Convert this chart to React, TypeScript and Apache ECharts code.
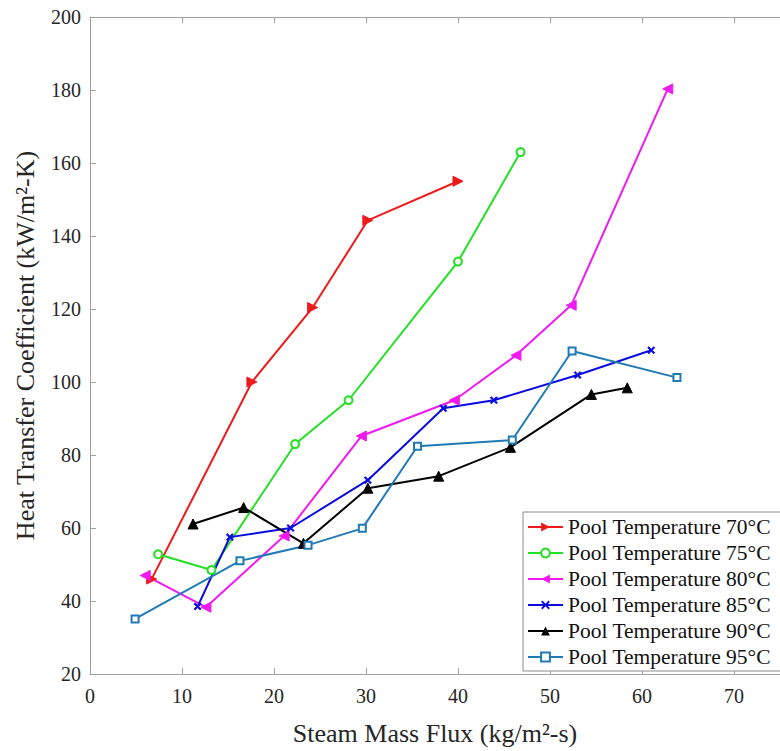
import React, { useEffect, useRef } from "react";
import * as echarts from "echarts";

const xTicks = [0, 10, 20, 30, 40, 50, 60, 70];
const yTicks = [20, 40, 60, 80, 100, 120, 140, 160, 180, 200];

const seriesNames = [
  "Pool Temperature 70°C",
  "Pool Temperature 75°C",
  "Pool Temperature 80°C",
  "Pool Temperature 85°C",
  "Pool Temperature 90°C",
  "Pool Temperature 95°C",
];

const flux70 = [6.7, 17.6, 24.2, 30.2, 40.0];
const htc70 = [46, 100, 120.4, 144.3, 155];

const flux75 = [7.4, 13.2, 22.3, 28.1, 40.0, 46.8];
const htc75 = [52.8, 48.5, 83, 95, 133, 163];

const flux80 = [6.0, 12.6, 21.1, 29.5, 39.6, 46.3, 52.3, 62.8];
const htc80 = [47, 38.3, 57.8, 85.2, 95, 107.3, 121, 180.3];

const flux85 = [11.7, 15.2, 21.8, 30.2, 38.4, 43.9, 53.0, 61.0];
const htc85 = [38.5, 57.5, 60, 73.1, 92.8, 95, 101.9, 108.7];

const flux90 = [11.2, 16.7, 23.2, 30.2, 37.9, 45.7, 54.5, 58.4];
const htc90 = [61.1, 65.6, 55.8, 70.9, 74.2, 82.1, 96.6, 98.4];

const flux95 = [4.9, 16.3, 23.7, 29.6, 35.6, 45.9, 52.4, 63.8];
const htc95 = [35.1, 51, 55.3, 59.9, 82.4, 84.1, 108.5, 101.2];

const FONT = '"Liberation Serif", "Times New Roman", serif';
const TEXT = "#262626";
const AXIS = "#a0a0a0";

const xMark = "path://M0,1.5 L1.5,0 L5,3.5 L8.5,0 L10,1.5 L6.5,5 L10,8.5 L8.5,10 L5,6.5 L1.5,10 L0,8.5 L3.5,5 Z";

const zip = (xs: number[], ys: number[]) => xs.map((x, i) => [x, ys[i]]);

export default function App() {
  const ref = useRef<HTMLDivElement>(null);
  useEffect(() => {
    if (!ref.current) return;
    const chart = echarts.init(ref.current, undefined, { renderer: "svg" });

    const mk = (
      name: string,
      xs: number[],
      ys: number[],
      color: string,
      symbol: string,
      size: number,
      rotate = 0,
      extra: any = {}
    ) => ({
      name,
      type: "line",
      data: zip(xs, ys),
      symbol,
      symbolSize: size,
      symbolRotate: rotate,
      showSymbol: true,
      lineStyle: { color, width: 2 },
      itemStyle: { color, borderColor: color, ...extra },
      emphasis: { disabled: true },
      z: 3,
    });

    chart.setOption({
      animation: false,
      backgroundColor: "#ffffff",
      grid: { left: 90, top: 17, width: 698, height: 659, containLabel: false },
      legend: {
        show: true,
        orient: "vertical",
        left: 523,
        top: 512,
        padding: [4, 10, 3, 4],
        itemWidth: 35,
        itemHeight: 11,
        itemGap: 4,
        backgroundColor: "#ffffff",
        borderColor: "#8c8c8c",
        borderWidth: 1,
        borderRadius: 0,
        textStyle: { fontFamily: FONT, fontSize: 21.5, color: "#111111" },
        data: seriesNames,
      },
      xAxis: [
        {
          type: "value",
          min: 0,
          max: 75,
          interval: 10,
          name: "Steam Mass Flux (kg/m²-s)",
          nameLocation: "middle",
          nameGap: 46,
          nameTextStyle: { fontFamily: FONT, fontSize: 26, color: TEXT },
          axisLine: { show: true, lineStyle: { color: AXIS, width: 1 } },
          axisTick: { show: true, inside: true, length: 6, lineStyle: { color: AXIS } },
          axisLabel: {
            fontFamily: FONT,
            fontSize: 20,
            color: TEXT,
            margin: 12,
            showMaxLabel: false,
            formatter: (v: number) => (xTicks.includes(v) ? String(v) : ""),
          },
          splitLine: { show: false },
        },
        {
          type: "value",
          position: "top",
          min: 0,
          max: 75,
          interval: 10,
          axisLine: { show: true, onZero: false, lineStyle: { color: AXIS, width: 1 } },
          axisTick: { show: true, inside: true, length: 6, lineStyle: { color: AXIS } },
          axisLabel: { show: false },
          splitLine: { show: false },
        },
      ],
      yAxis: {
        type: "value",
        min: 20,
        max: 200,
        interval: 20,
        name: "Heat Transfer Coefficient (kW/m²-K)",
        nameLocation: "middle",
        nameGap: 52,
        nameTextStyle: { fontFamily: FONT, fontSize: 26, color: TEXT },
        axisLine: { show: true, lineStyle: { color: AXIS, width: 1 } },
        axisTick: { show: true, inside: true, length: 6, lineStyle: { color: AXIS } },
        axisLabel: {
          fontFamily: FONT,
          fontSize: 20,
          color: TEXT,
          margin: 9,
          formatter: (v: number) => (yTicks.includes(v) ? String(v) : ""),
        },
        splitLine: { show: false },
      },
      series: [
        mk(seriesNames[0], flux70, htc70, "#ee1b1b", "triangle", 10, -90),
        mk(seriesNames[1], flux75, htc75, "#22e022", "emptyCircle", 8, 0, { borderWidth: 1.5 }),
        mk(seriesNames[2], flux80, htc80, "#f01af0", "triangle", 10, 90),
        mk(seriesNames[3], flux85, htc85, "#0b0be0", xMark, 7),
        mk(seriesNames[4], flux90, htc90, "#000000", "triangle", 10, 0),
        mk(seriesNames[5], flux95, htc95, "#1f7ab5", "emptyRect", 7, 0, { borderWidth: 1.5 }),
      ],
    });
    return () => chart.dispose();
  }, []);
  return (
    <div
      ref={ref}
      style={{ position: "fixed", left: 0, top: 0, width: 780, height: 751, background: "#fff" }}
    />
  );
}
